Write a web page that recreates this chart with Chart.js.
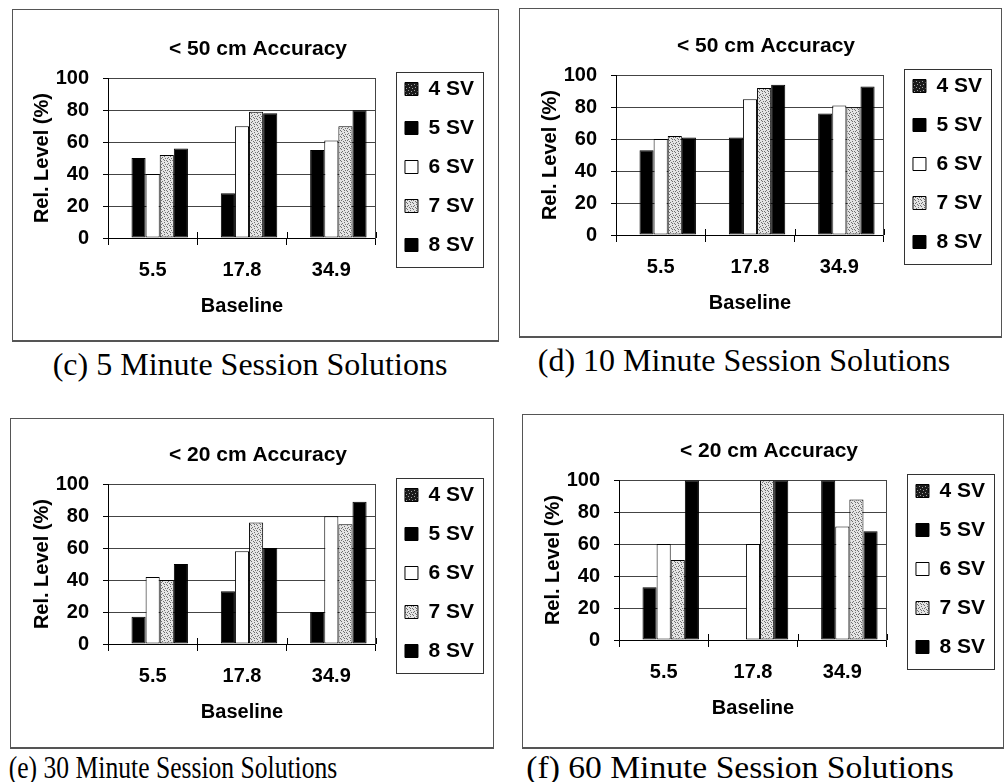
<!DOCTYPE html>
<html>
<head>
<meta charset="utf-8">
<script src="https://cdn.jsdelivr.net/npm/chart.js@4/dist/chart.umd.min.js"></script>
<style>
  html, body { margin: 0; padding: 0; background: #fff; }
  body { width: 1004px; height: 782px; position: relative; overflow: hidden; }
  .frame { position: absolute; border: 1px solid #555; border-bottom-width: 2px; box-sizing: border-box; }
  canvas { position: absolute; }
  .cap {
    position: absolute; font-family: 'Liberation Serif', 'Times New Roman', serif;
    font-size: 32px; line-height: 36px; color: #000; white-space: nowrap;
    transform: translateX(-50%);
  }
</style>
</head>
<body>
<div class="frame" style="left:12px;top:9px;width:487px;height:333px"></div>
<div class="frame" style="left:519px;top:8px;width:483px;height:330px"></div>
<div class="frame" style="left:10px;top:418px;width:484px;height:331px"></div>
<div class="frame" style="left:522px;top:414px;width:482px;height:335px"></div>

<canvas id="chartC" width="484" height="330" style="left:11px;top:11px"></canvas>
<canvas id="chartD" width="484" height="330" style="left:519px;top:8px"></canvas>
<canvas id="chartE" width="484" height="330" style="left:11px;top:417px"></canvas>
<canvas id="chartF" width="484" height="330" style="left:522px;top:413px"></canvas>

<div class="cap" style="left:250px;top:346px">(c) 5 Minute Session Solutions</div>
<div class="cap" style="left:744px;top:342px">(d) 10 Minute Session Solutions</div>
<div class="cap" style="left:173px;top:749px;transform:translateX(-50%) scaleX(0.8)">(e) 30 Minute Session Solutions</div>
<div class="cap" style="left:740px;top:749px;transform:translateX(-50%) scaleX(1.05)">(f) 60 Minute Session Solutions</div>

<script>
// Baseline lengths (categories) and satellite-count series
const baselines = ['5.5', '17.8', '34.9'];
const svLabels = ['4 SV', '5 SV', '6 SV', '7 SV', '8 SV'];
const yTicks = [0, 20, 40, 60, 80, 100];

// (c) 5 minute sessions, < 50 cm accuracy
const min5_sv4 = [0, 0, 0];
const min5_sv5 = [50, 28, 55];
const min5_sv6 = [40, 70, 61];
const min5_sv7 = [52, 79, 70];
const min5_sv8 = [56, 78, 80];

// (d) 10 minute sessions, < 50 cm accuracy
const min10_sv4 = [0, 0, 0];
const min10_sv5 = [53, 61, 76];
const min10_sv6 = [60, 85, 81];
const min10_sv7 = [62, 92, 80];
const min10_sv8 = [61, 94, 93];

// (e) 30 minute sessions, < 20 cm accuracy
const min30_sv4 = [0, 0, 0];
const min30_sv5 = [17, 33, 20];
const min30_sv6 = [42, 58, 80];
const min30_sv7 = [40, 76, 75];
const min30_sv8 = [50, 60, 89];

// (f) 60 minute sessions, < 20 cm accuracy
const min60_sv4 = [0, 0, 0];
const min60_sv5 = [33, 0, 100];
const min60_sv6 = [60, 60, 71];
const min60_sv7 = [50, 100, 88];
const min60_sv8 = [100, 100, 68];

Chart.defaults.font.family = "'Liberation Sans', Arial, sans-serif";
Chart.defaults.font.weight = 'bold';
Chart.defaults.color = '#000';

// Small repeating stipple tiles used as bar fills
function stipple(base, dot, pts) {
  const c = document.createElement('canvas');
  c.width = 6; c.height = 6;
  const g = c.getContext('2d');
  g.fillStyle = base; g.fillRect(0, 0, 6, 6);
  g.fillStyle = dot;
  pts.forEach(([x, y]) => g.fillRect(x, y, 1, 1));
  return g.createPattern(c, 'repeat');
}
const darkDots = stipple('#1c1c1c', '#a0a0a0', [[1, 1], [4, 2], [2, 4], [5, 5]]);
const lightDots = stipple('#e4e4e4', '#707070', [[0, 0], [3, 1], [1, 2], [4, 3], [2, 4], [5, 5], [0, 3], [3, 5]]);
const fills = [darkDots, '#000', '#fff', lightDots, '#000'];

// Outline round the legend, plus the upper half of the crossing x tick marks
const chartExtras = {
  id: 'chartExtras',
  afterDraw(chart) {
    const ctx = chart.ctx;
    const hb = chart.legend.legendHitBoxes;
    const l = Math.min(...hb.map(b => b.left)) - 9;
    const r = Math.max(...hb.map(b => b.left + b.width)) + 9;
    const t = hb[0].top - 7;
    const last = hb[hb.length - 1];
    const b = last.top + last.height + 11;
    ctx.save();
    ctx.strokeStyle = '#333';
    ctx.lineWidth = 1;
    ctx.strokeRect(Math.round(l) + 0.5, Math.round(t) + 0.5, Math.round(r - l), Math.round(b - t));
    const xs = chart.scales.x;
    ctx.strokeStyle = '#000';
    ctx.beginPath();
    for (let i = 0; i <= baselines.length; i++) {
      const x = Math.round(xs.getPixelForValue(i - 0.5)) + 0.5;
      ctx.moveTo(x, xs.top - 6);
      ctx.lineTo(x, xs.top);
    }
    ctx.stroke();
    ctx.restore();
  }
};

function makeChart(id, title, series) {
  const datasets = svLabels.map((name, i) => ({
    label: name,
    data: series[i],
    backgroundColor: fills[i],
    borderColor: '#000',
    borderWidth: 1,
    borderSkipped: false,
    categoryPercentage: 0.79,
    barPercentage: 1.0
  }));
  return new Chart(document.getElementById(id), {
    type: 'bar',
    data: { labels: baselines, datasets },
    options: {
      responsive: false,
      animation: false,
      layout: { padding: { left: 21, right: 11, top: 0, bottom: 18 } },
      plugins: {
        title: {
          display: true, text: title, color: '#000',
          font: { size: 21, weight: 'bold' },
          padding: { top: 26, bottom: 16 }
        },
        legend: {
          position: 'right', align: 'center', maxWidth: 200,
          labels: {
            boxWidth: 13, boxHeight: 13, padding: 18, color: '#000',
            font: { size: 21, weight: 'bold' }
          }
        },
        tooltip: { enabled: false }
      },
      scales: {
        x: {
          grid: { display: true, drawOnChartArea: false, offset: true, tickLength: 7, color: '#000', lineWidth: 1 },
          border: { display: true, color: '#000', width: 1 },
          ticks: { font: { size: 20, weight: 'bold' }, color: '#000', padding: 13, maxRotation: 0 },
          title: { display: true, text: 'Baseline', color: '#000', font: { size: 20, weight: 'bold' }, padding: { top: 0, bottom: 5 } },
          afterFit: s => { s.height = 85; }
        },
        y: {
          min: 0, max: 100,
          afterBuildTicks: s => { s.ticks = yTicks.map(v => ({ value: v })); },
          grid: { color: '#444', tickColor: '#000', tickLength: 5, lineWidth: 1 },
          border: { display: true, color: '#000', width: 1 },
          ticks: { font: { size: 20, weight: 'bold' }, color: '#000', padding: 14 },
          title: { display: true, text: 'Rel. Level (%)', color: '#000', font: { size: 20, weight: 'bold', lineHeight: 1.0 }, padding: { top: 0, bottom: 0 } },
          afterFit: s => { s.width = 76; }
        },
        edge: {
          type: 'linear', axis: 'y', position: 'right', display: true,
          grid: { display: false },
          ticks: { display: false },
          border: { display: true, color: '#444', width: 1 },
          afterFit: s => { s.width = 11; }
        }
      }
    },
    plugins: [chartExtras]
  });
}

makeChart('chartC', '< 50 cm Accuracy', [min5_sv4, min5_sv5, min5_sv6, min5_sv7, min5_sv8]);
makeChart('chartD', '< 50 cm Accuracy', [min10_sv4, min10_sv5, min10_sv6, min10_sv7, min10_sv8]);
makeChart('chartE', '< 20 cm Accuracy', [min30_sv4, min30_sv5, min30_sv6, min30_sv7, min30_sv8]);
makeChart('chartF', '< 20 cm Accuracy', [min60_sv4, min60_sv5, min60_sv6, min60_sv7, min60_sv8]);
</script>
</body>
</html>
